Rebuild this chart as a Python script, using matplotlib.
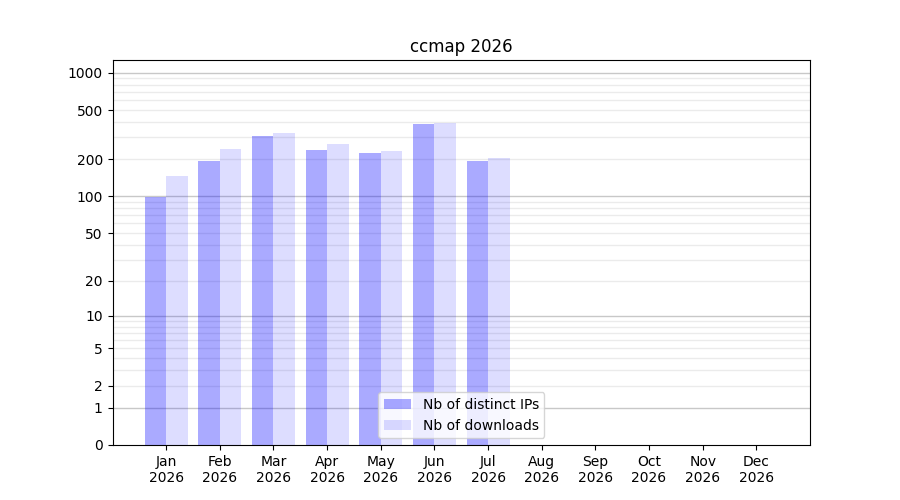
import numpy as np
import matplotlib
matplotlib.use('Agg')
import matplotlib.pyplot as plt

# monthly stats for ccmap, 2026
months = ['Jan', 'Feb', 'Mar', 'Apr', 'May', 'Jun',
          'Jul', 'Aug', 'Sep', 'Oct', 'Nov', 'Dec']
year = '2026'
distinct_ips = [99, 193, 308, 238, 225, 385, 193]
downloads = [146, 242, 326, 266, 233, 393, 205]

tick_values = [0, 1, 2, 5, 10, 20, 50, 100, 200, 500, 1000]
major_grid = [1, 10, 100, 1000]


def forward(v):
    return np.log10(np.asarray(v, dtype=float) + 1)


def inverse(v):
    return 10 ** np.asarray(v, dtype=float) - 1


def main():
    fig, ax = plt.subplots(figsize=(9, 5), dpi=100)
    ax.set_yscale('function', functions=(forward, inverse))

    # grid lines: decades darker, the rest light
    minor_grid = [m * d for d in (1, 10, 100) for m in range(2, 10)]
    for v in minor_grid:
        ax.axhline(v, color='#ebebeb', linewidth=1, zorder=0)
    for v in major_grid:
        ax.axhline(v, color='#c8c8c8', linewidth=1, zorder=0.5)

    x_ips = np.arange(len(distinct_ips))
    x_dl = np.arange(len(downloads))
    ax.bar(x_ips - 0.2, distinct_ips, width=0.4, color='blue', alpha=1/3,
           label='Nb of distinct IPs', zorder=2)
    ax.bar(x_dl + 0.2, downloads, width=0.4, color='blue', alpha=0.135,
           label='Nb of downloads', zorder=2)

    ax.set_xticks(np.arange(len(months)))
    ax.set_xticklabels([f'{m}\n{year}' for m in months])
    ax.set_xlim(-1, len(months))

    ax.set_ylim(0, 1267)
    ax.set_yticks(tick_values)
    ax.set_yticklabels([str(v) for v in tick_values])
    ax.minorticks_off()

    ax.set_title('ccmap 2026')
    ax.legend(loc='lower center')
    fig.savefig('out.png')


if __name__ == '__main__':
    main()
